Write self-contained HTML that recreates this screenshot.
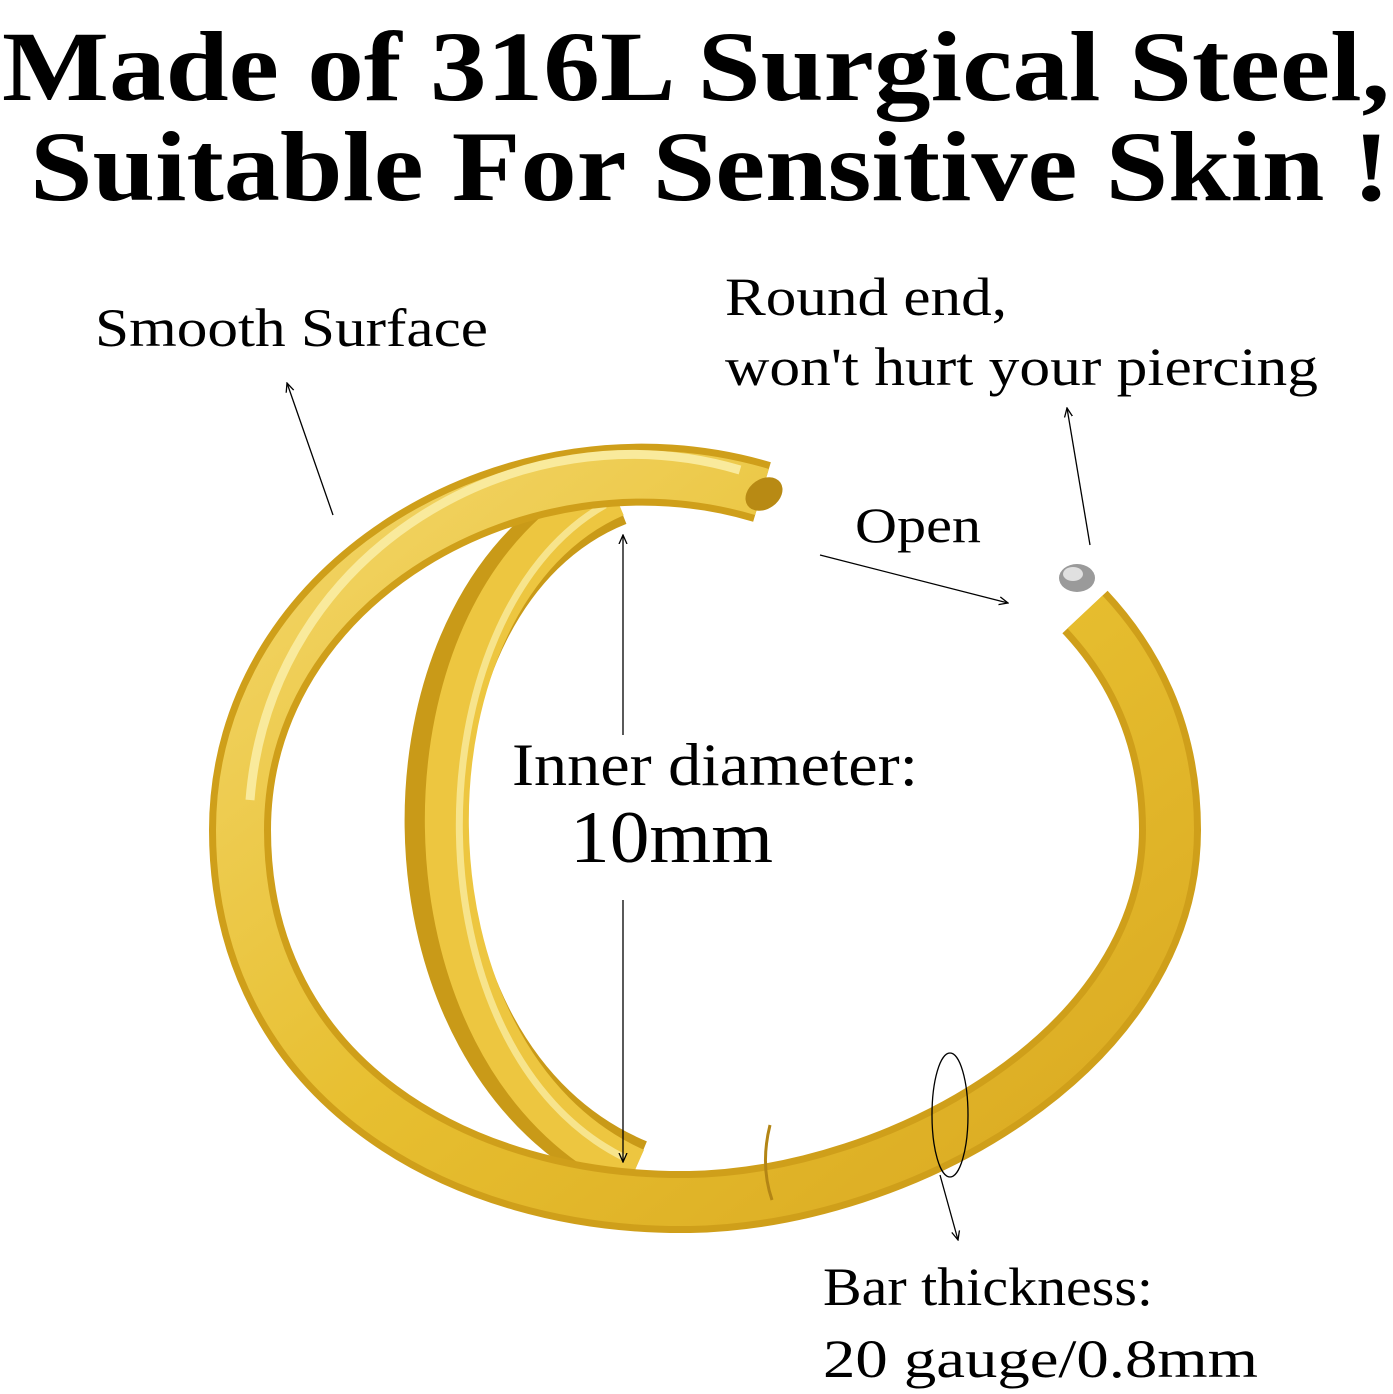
<!DOCTYPE html>
<html><head><meta charset="utf-8"><style>
html,body{margin:0;padding:0;background:#fff;}
body{width:1393px;height:1394px;overflow:hidden;position:relative;}
svg{position:absolute;left:0;top:0;}
</style></head><body>
<svg width="1393" height="1394" viewBox="0 0 1393 1394" xmlns="http://www.w3.org/2000/svg">
<defs>
<linearGradient id="g1" x1="0" y1="0" x2="1" y2="1">
<stop offset="0" stop-color="#f3d66a"/><stop offset="0.5" stop-color="#e7bf30"/><stop offset="1" stop-color="#d9a820"/>
</linearGradient>
<marker id="ah" markerWidth="10" markerHeight="10" refX="9" refY="5" orient="auto" markerUnits="userSpaceOnUse">
<path d="M0,1 L9,5 L0,9" fill="none" stroke="#000" stroke-width="1.3"/>
</marker>
</defs>
<g font-family="'Liberation Serif',serif" font-weight="bold" font-size="100" fill="#000">
<text x="2" y="100" textLength="1388" lengthAdjust="spacingAndGlyphs">Made of 316L Surgical Steel,</text>
<text x="30" y="200" textLength="1360" lengthAdjust="spacingAndGlyphs">Suitable For Sensitive Skin !</text>
</g>
<!-- inner crescent -->
<path d="M615 495 C375 590, 370 1060, 635 1170" fill="none" stroke="#c99a18" stroke-width="62"/>
<path d="M615 495 C390 592, 385 1058, 635 1170" fill="none" stroke="#edc640" stroke-width="44"/>
<path d="M605 505 C410 615, 405 1050, 625 1158" fill="none" stroke="#f7e48c" stroke-width="7"/>
<!-- big ring -->
<path d="M762 492 C520 420, 240 580, 240 830 C240 1080, 460 1205, 690 1202 C900 1198, 1170 1050, 1170 830 C1170 730, 1130 660, 1085 612" fill="none" stroke="#cf9f1a" stroke-width="62"/>
<path d="M762 492 C520 420, 240 580, 240 830 C240 1080, 460 1205, 690 1202 C900 1198, 1170 1050, 1170 830 C1170 730, 1130 660, 1085 612" fill="none" stroke="url(#g1)" stroke-width="48"/>
<path d="M740 470 C520 405, 270 550, 250 800" fill="none" stroke="#f9ea9c" stroke-width="9"/>
<ellipse cx="764" cy="494" rx="20" ry="15" fill="#b88a14" transform="rotate(-35 764 494)"/>
<!-- ball end -->
<ellipse cx="1077" cy="578" rx="18" ry="14" fill="#9a9a9a"/>
<ellipse cx="1073" cy="574" rx="10" ry="7" fill="#e0e0e0"/>
<!-- seam -->
<path d="M770 1125 Q 760 1165 772 1200" fill="none" stroke="#b38515" stroke-width="3"/>
<g stroke="#000" stroke-width="1.3" fill="none">
<line x1="333" y1="515" x2="287" y2="383" marker-end="url(#ah)"/>
<line x1="1090" y1="545" x2="1067" y2="408" marker-end="url(#ah)"/>
<line x1="820" y1="555" x2="1008" y2="603" marker-end="url(#ah)"/>
<line x1="623" y1="735" x2="623" y2="535" marker-end="url(#ah)"/>
<line x1="623" y1="900" x2="623" y2="1162" marker-end="url(#ah)"/>
<ellipse cx="950" cy="1115" rx="18" ry="62"/>
<line x1="940" y1="1175" x2="958" y2="1240" marker-end="url(#ah)"/>
</g>
<g font-family="'Liberation Serif',serif" fill="#000">
<text x="95" y="346" font-size="54" textLength="393" lengthAdjust="spacingAndGlyphs">Smooth Surface</text>
<text x="725" y="315" font-size="54" textLength="282" lengthAdjust="spacingAndGlyphs">Round end,</text>
<text x="725" y="385" font-size="54" textLength="593" lengthAdjust="spacingAndGlyphs">won't hurt your piercing</text>
<text x="855" y="542" font-size="50" textLength="126" lengthAdjust="spacingAndGlyphs">Open</text>
<text x="512" y="785" font-size="60" textLength="406" lengthAdjust="spacingAndGlyphs">Inner diameter:</text>
<text x="570" y="862" font-size="74" textLength="203" lengthAdjust="spacingAndGlyphs">10mm</text>
<text x="823" y="1305" font-size="54" textLength="330" lengthAdjust="spacingAndGlyphs">Bar thickness:</text>
<text x="823" y="1377" font-size="54" textLength="435" lengthAdjust="spacingAndGlyphs">20 gauge/0.8mm</text>
</g>
</svg>
</body></html>
